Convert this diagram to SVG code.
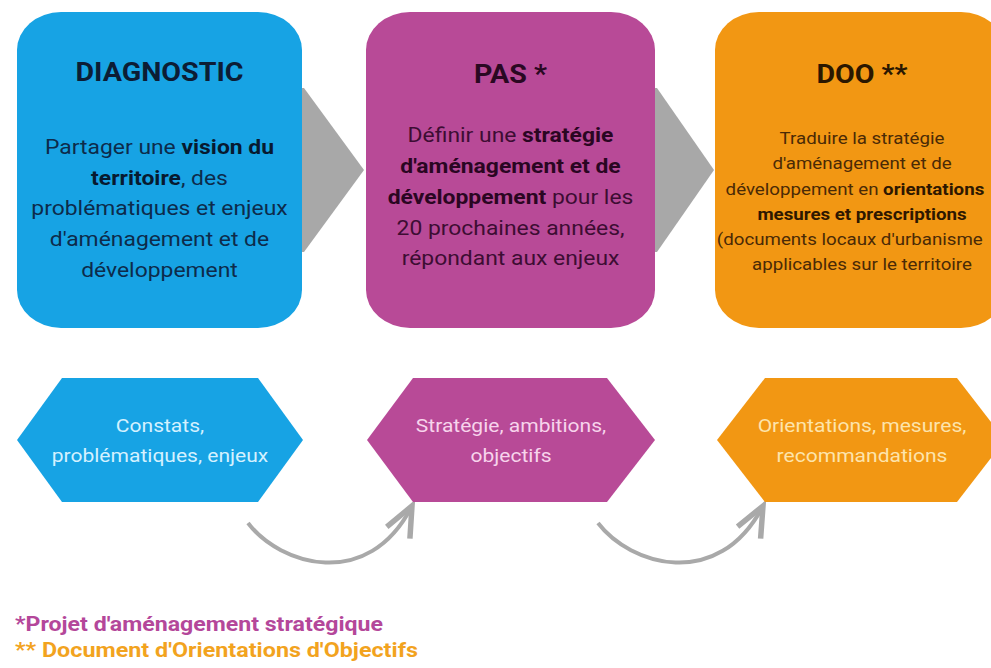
<svg xmlns="http://www.w3.org/2000/svg" width="991" height="668" viewBox="0 0 991 668">
  <style>
    .t { font-family: Roboto, "Liberation Sans", Arial, sans-serif; text-anchor: middle; }
    .ttl { font-weight: 700; font-size: 26px; }
    .body { font-size: 20.8px; }
    .small { font-size: 17px; }
    .hx { font-size: 18.8px; }
    .b { font-weight: 700; }
    .chev { fill: #a8a8a8; }
    .flow { fill: none; stroke: #a9a9a9; stroke-width: 4; marker-end: url(#hook); }
    .note { font-family: Roboto, "Liberation Sans", Arial, sans-serif; font-weight: 700; font-size: 20px; }
  </style>
  <defs>
    <marker id="hook" markerUnits="userSpaceOnUse" viewBox="-40 -20 46 40" refX="0" refY="0" markerWidth="46" markerHeight="40" orient="auto" overflow="visible">
      <path d="M-30,-13 L0,0 L-30,13" fill="none" stroke="#a9a9a9" stroke-width="5.5" stroke-linejoin="miter"/>
    </marker>
  </defs>

  <rect width="991" height="668" fill="#ffffff"/>

  <!-- connectors: chevrons between phases, curved arrows between outputs -->
  <g id="connectors">
    <polygon class="chev" points="290,88 304,88 364,170 304,252 290,252"/>
    <polygon class="chev" points="645,88 657,88 714,170 657,252 645,252"/>
    <path class="flow" d="M248,523 C280,565 368,592 412,506"/>
    <path class="flow" d="M598,523 C630,565 718,592 763,506"/>
  </g>

  <!-- phase 1 -->
  <g id="diagnostic">
    <rect x="17" y="12" width="285" height="316" rx="44" ry="38" fill="#17a3e4"/>
    <g transform="translate(159.5 0) scale(1.1 1)">
      <text class="t ttl" y="81" fill="#0c1d35">DIAGNOSTIC</text>
      <g class="t body" fill="#0d2b4b">
        <text y="154">Partager une <tspan class="b" fill="#071a30">vision du</tspan></text>
        <text y="185"><tspan class="b" fill="#071a30">territoire</tspan>, des</text>
        <text y="215">problématiques et enjeux</text>
        <text y="246">d'aménagement et de</text>
        <text y="277">développement</text>
      </g>
    </g>
  </g>

  <!-- phase 2 -->
  <g id="pas">
    <rect x="366" y="12" width="289" height="316" rx="44" ry="38" fill="#b84a97"/>
    <g transform="translate(510.5 0) scale(1.1 1)">
      <text class="t ttl" y="83" fill="#2a0822">PAS *</text>
      <g class="t body" fill="#3d0d33">
        <text y="142">Définir une <tspan class="b" fill="#2a0622">stratégie</tspan></text>
        <text y="173"><tspan class="b" fill="#2a0622">d'aménagement et de</tspan></text>
        <text y="204"><tspan class="b" fill="#2a0622">développement</tspan> pour les</text>
        <text y="235">20 prochaines années,</text>
        <text y="265">répondant aux enjeux</text>
      </g>
    </g>
  </g>

  <!-- phase 3 -->
  <g id="doo">
    <rect x="715" y="12" width="290" height="316" rx="44" ry="38" fill="#f29713"/>
    <g transform="translate(862 0) scale(1.1 1)">
      <text class="t ttl" y="83" fill="#2b1700">DOO **</text>
      <g class="t small" fill="#4a2a06">
        <text y="144">Traduire la stratégie</text>
        <text y="169">d'aménagement et de</text>
        <text x="-124" y="195" style="text-anchor:start">développement en <tspan class="b" fill="#2e1700">orientations</tspan></text>
        <text y="220"><tspan class="b" fill="#2e1700">mesures et prescriptions</tspan></text>
        <text x="-132" y="245" style="text-anchor:start">(documents locaux d'urbanisme</text>
        <text y="270">applicables sur le territoire</text>
      </g>
    </g>
  </g>

  <!-- outputs of each phase -->
  <g id="constats">
    <polygon points="17,440 62,378 258,378 303,440 258,502 62,502" fill="#17a3e4"/>
    <g transform="translate(160 0) scale(1.12 1)" class="t hx" fill="#d4f1ff">
      <text y="432">Constats,</text>
      <text y="462">problématiques, enjeux</text>
    </g>
  </g>

  <g id="strategie">
    <polygon points="367,440 413,378 607,378 655,440 607,502 413,502" fill="#b84a97"/>
    <g transform="translate(511 0) scale(1.12 1)" class="t hx" fill="#f7d4ec">
      <text y="432">Stratégie, ambitions,</text>
      <text y="462">objectifs</text>
    </g>
  </g>

  <g id="orientations">
    <polygon points="717,440 765,378 957,378 1005,440 957,502 765,502" fill="#f29713"/>
    <g transform="translate(862 0) scale(1.12 1)" class="t hx" fill="#fde4ac">
      <text y="432">Orientations, mesures,</text>
      <text y="462">recommandations</text>
    </g>
  </g>

  <!-- acronym legend -->
  <g id="legend">
    <text class="note" x="15" y="631" fill="#b4479a" textLength="368" lengthAdjust="spacingAndGlyphs">*Projet d'aménagement stratégique</text>
    <text class="note" x="15" y="657" fill="#f2a31e" textLength="403" lengthAdjust="spacingAndGlyphs">** Document d'Orientations d'Objectifs</text>
  </g>
</svg>
